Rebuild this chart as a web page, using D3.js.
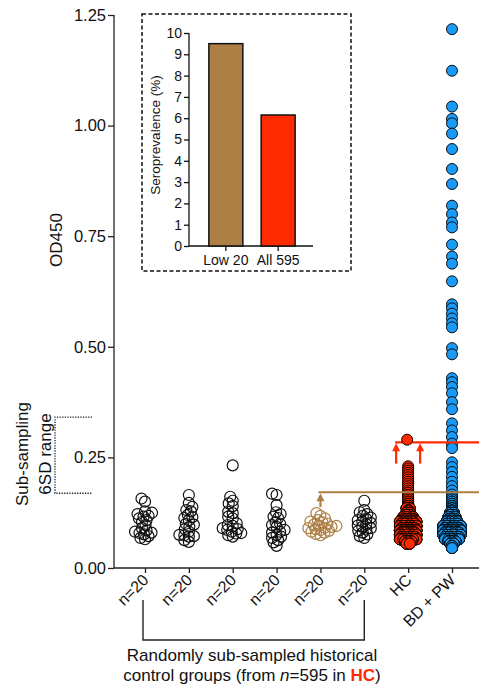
<!DOCTYPE html>
<html><head><meta charset="utf-8">
<script src="https://cdn.jsdelivr.net/npm/d3@7"></script>
<style>
html,body{margin:0;padding:0;background:#fff;}
svg{display:block;font-family:"Liberation Sans",Arial,Helvetica,sans-serif;}
</style></head>
<body>
<svg id="chart" width="479" height="688"></svg>
<script>
// ---------------- DATA ----------------
const categories = ["n=20","n=20","n=20","n=20","n=20","n=20","HC","BD + PW"];
const yTicks = [0, 0.25, 0.5, 0.75, 1.0, 1.25];

const sub1 = [0.157,0.150,0.128,0.125,0.122,0.118,0.116,0.112,0.108,0.104,0.097,0.090,0.085,0.082,0.080,0.079,0.076,0.072,0.068,0.065];
const sub2 = [0.165,0.147,0.138,0.131,0.128,0.120,0.115,0.113,0.108,0.100,0.098,0.093,0.088,0.082,0.075,0.074,0.072,0.071,0.063,0.059];
const sub3 = [0.232,0.161,0.152,0.146,0.140,0.127,0.124,0.116,0.112,0.101,0.097,0.095,0.090,0.088,0.086,0.082,0.079,0.078,0.074,0.071];
const sub4 = [0.168,0.165,0.142,0.126,0.122,0.116,0.113,0.104,0.100,0.097,0.093,0.086,0.082,0.080,0.075,0.071,0.068,0.063,0.058,0.050];
const sub5 = [0.124,0.118,0.112,0.108,0.105,0.103,0.100,0.098,0.096,0.095,0.093,0.091,0.090,0.088,0.086,0.084,0.082,0.080,0.077,0.074];
const sub6 = [0.152,0.131,0.126,0.122,0.118,0.114,0.111,0.108,0.105,0.102,0.099,0.096,0.093,0.090,0.087,0.084,0.080,0.076,0.072,0.068];

// HC (n=595): dense part as value bins with estimated counts, plus upper individual points
const hcBinValues = [0.055,0.060,0.065,0.070,0.075,0.080,0.085,0.090,0.095,0.100,0.105,0.110,0.115,0.120,0.125,0.130,0.135,0.140,0.145,0.150,0.155,0.160,0.165,0.170];
const hcBinCounts = [8,20,35,50,57,57,56,55,50,42,35,28,22,17,12,9,7,5,4,3,2,2,2,2];
const hcHigh = [0.175,0.180,0.185,0.190,0.195,0.200,0.205,0.210,0.215,0.220,0.225,0.230];
const hcOutlier = [0.290];

// BD + PW: dense part as bins, plus individual upper points
const bdBinValues = [0.045,0.050,0.055,0.060,0.065,0.070,0.075,0.080,0.085,0.090,0.095,0.100,0.105,0.110,0.115,0.120,0.125,0.130,0.135,0.140,0.145,0.150,0.155,0.160];
const bdBinCounts = [3,6,12,20,28,35,40,42,40,36,32,28,24,20,16,13,10,8,6,5,4,3,2,2];
const bdHigh = [0.166,0.175,0.185,0.195,0.206,0.217,0.228,0.239,0.271,0.281,0.296,0.311,0.327,0.359,0.375,0.395,0.409,0.420,0.429,0.483,0.497,0.544,0.553,0.564,0.575,0.587,0.596,0.648,0.688,0.704,0.731,0.770,0.781,0.800,0.819,0.868,0.902,0.947,0.982,1.005,1.015,1.043,1.124,1.218];

const thresholdLow = 0.171;   // brown line
const thresholdHigh = 0.284;  // red line
const rangeBracket = [0.169, 0.341];

// inset
const insetCats = ["Low 20","All 595"];
const insetVals = [9.5, 6.15];

// ---------------- STYLE ----------------
const BROWN = "#ad7f45", RED = "#ff2a00", BLUE = "#1a9af5";
const R = 5.5;

const svg = d3.select("#chart");
const y = d3.scaleLinear().domain([0,1.25]).range([568,15]);
const x = d3.scaleLinear().domain([0,7]).range([145,452]);
const AX0 = 114, AXEND = 479;

// ---------------- AXES ----------------
const gy = svg.append("g").attr("transform",`translate(${AX0},0)`);
gy.call(d3.axisLeft(y).tickValues(d3.range(0,1.2501,0.025)).tickSize(3).tickFormat(""))
  .call(g=>g.select(".domain").remove());
gy.call(d3.axisLeft(y).tickValues(yTicks).tickSize(6).tickPadding(2).tickFormat(d3.format(".2f")));
gy.selectAll("path,line").attr("stroke","#222").attr("stroke-width",1.3);
gy.selectAll("text").attr("font-size",16.5).attr("fill","#111").attr("font-family","Liberation Sans, Arial");
gy.select(".domain").attr("d",`M0,${y(1.25)}V${y(0)}`);

svg.append("line").attr("x1",AX0).attr("x2",AXEND).attr("y1",y(0)).attr("y2",y(0))
  .attr("stroke","#222").attr("stroke-width",1.3);
const gx = svg.append("g").attr("transform",`translate(0,${y(0)})`);
gx.call(d3.axisBottom(x).tickValues(d3.range(categories.length)).tickSize(5).tickFormat(i=>categories[i]))
  .call(g=>g.select(".domain").remove());
gx.selectAll("line").attr("stroke","#222").attr("stroke-width",1.3);
gx.selectAll("text").attr("font-size",16).attr("fill","#111").attr("font-family","Liberation Sans, Arial")
  .attr("text-anchor","end").attr("dy",null).attr("y",0)
  .attr("transform","translate(4,13) rotate(-45)");

svg.append("text").attr("transform",`translate(62,240) rotate(-90)`).attr("text-anchor","middle")
  .attr("font-size",17).attr("fill","#111").text("OD450");

// bracket on left
const br = svg.append("g").attr("fill","none").attr("stroke","#222").attr("stroke-width",1.3).attr("stroke-dasharray","1.3,1.3");
br.append("path").attr("d",`M92,${y(rangeBracket[1])}H55V${y(rangeBracket[0])}H92`);
svg.append("text").attr("transform",`translate(28,454) rotate(-90)`).attr("text-anchor","middle")
  .attr("font-size",17).attr("fill","#111").text("Sub-sampling");
svg.append("text").attr("transform",`translate(51,454) rotate(-90)`).attr("text-anchor","middle")
  .attr("font-size",17).attr("fill","#111").text("6SD range");

// ---------------- POINTS ----------------
function swarm(vals, cx, minD){
  const placed=[];
  const sorted=[...vals].sort((a,b)=>a-b);
  sorted.forEach(v=>{
    const py=y(v);
    let dx=0;
    for(let k=0;k<200;k++){
      const cand = (k%2===0?1:-1)*Math.ceil(k/2)*0.5;
      const ok = placed.every(p=>Math.hypot(p.x-(cx+cand),p.y-py)>=minD);
      if(ok){dx=cand;break;}
    }
    placed.push({x:cx+dx,y:py,v});
  });
  return placed;
}
// dense columns: points of a value bin are laid out on a few horizontal slots (hex-like stagger)
function binLayout(vals, counts, cx, maxSlots, sp){
  const pts=[];
  vals.forEach((v,i)=>{
    const n=counts[i];
    let k=Math.max(1,Math.min(maxSlots,Math.ceil(n/6)));
    if(i%2===1 && k>1){k=k-1;}
    for(let j=0;j<n;j++){
      const s=j%k;
      pts.push({x:cx+(s-(k-1)/2)*sp,y:y(v),v});
    }
  });
  return pts;
}

const subs=[sub1,sub2,sub3,sub4,sub5,sub6];
subs.forEach((s,i)=>{
  const pts=swarm(s,x(i),4.6);
  svg.append("g").selectAll("circle").data(pts).join("circle")
    .attr("cx",d=>d.x).attr("cy",d=>d.y).attr("r",R)
    .attr("fill","none").attr("stroke",i===4?BROWN:"#111").attr("stroke-width",1.2);
});

// HC
const hcPts = binLayout(hcBinValues,hcBinCounts,x(6),6,3.3)
  .concat(hcHigh.map(v=>({x:x(6),y:y(v),v})));
hcPts.sort((a,b)=>a.y-b.y);
svg.append("g").selectAll("circle").data(hcPts).join("circle")
  .attr("cx",d=>d.x).attr("cy",d=>d.y).attr("r",R)
  .attr("fill",RED).attr("stroke","#1a0500").attr("stroke-width",1);

// BD + PW
const bdPts = binLayout(bdBinValues,bdBinCounts,x(7),6,3.5)
  .concat(bdHigh.map(v=>({x:x(7),y:y(v),v})));
bdPts.sort((a,b)=>a.y-b.y);
svg.append("g").selectAll("circle").data(bdPts).join("circle")
  .attr("cx",d=>d.x).attr("cy",d=>d.y).attr("r",R)
  .attr("fill",BLUE).attr("stroke","#06121c").attr("stroke-width",1);

// ---------------- THRESHOLD LINES & ARROWS ----------------
function arrow(xp, yFrom, yTo, color){
  svg.append("line").attr("x1",xp).attr("x2",xp).attr("y1",yFrom).attr("y2",yTo+6)
    .attr("stroke",color).attr("stroke-width",2.2);
  svg.append("path").attr("d",`M${xp},${yTo}L${xp-4},${yTo+8}L${xp+4},${yTo+8}Z`).attr("fill",color);
}
svg.append("line").attr("x1",x(4)-2).attr("x2",AXEND).attr("y1",y(thresholdLow)).attr("y2",y(thresholdLow))
  .attr("stroke",BROWN).attr("stroke-width",2);
arrow(x(4), y(0.138), y(thresholdLow)+1, BROWN);

svg.append("line").attr("x1",x(6)-13).attr("x2",AXEND).attr("y1",y(thresholdHigh)).attr("y2",y(thresholdHigh))
  .attr("stroke",RED).attr("stroke-width",2.2);
arrow(x(6)-12, y(0.236), y(thresholdHigh)+1, RED);
arrow(x(6)+12, y(0.236), y(thresholdHigh)+1, RED);

svg.append("g").selectAll("circle").data(hcOutlier).join("circle")
  .attr("cx",x(6)-1).attr("cy",d=>y(d)).attr("r",R)
  .attr("fill",RED).attr("stroke","#1a0500").attr("stroke-width",1);

// ---------------- BOTTOM BRACKET & TEXT ----------------
svg.append("path").attr("d",`M${x(0)-2},600V640H${x(5)}V600`).attr("fill","none")
  .attr("stroke","#222").attr("stroke-width",1.4);
svg.append("text").attr("x",252).attr("y",661).attr("text-anchor","middle").attr("font-size",17).attr("fill","#111")
  .text("Randomly sub-sampled historical");
const t2 = svg.append("text").attr("x",252).attr("y",681).attr("text-anchor","middle").attr("font-size",17).attr("fill","#111");
t2.append("tspan").text("control groups (from ");
t2.append("tspan").attr("font-style","italic").text("n");
t2.append("tspan").text("=595 in ");
t2.append("tspan").attr("font-weight","bold").attr("fill",RED).text("HC");
t2.append("tspan").text(")");

// ---------------- INSET ----------------
const inset = svg.append("g");
inset.append("rect").attr("x",142).attr("y",14).attr("width",209).attr("height",257)
  .attr("fill","#fff").attr("stroke","#111").attr("stroke-width",1.5).attr("stroke-dasharray","4,2.5");
const iy = d3.scaleLinear().domain([0,10]).range([246,33]);
const ix = d3.scaleBand().domain(insetCats).range([189,315]).paddingInner(0.35).paddingOuter(0.38);
const giy = inset.append("g").attr("transform","translate(189,0)")
  .call(d3.axisLeft(iy).tickValues(d3.range(0,11)).tickSize(5).tickPadding(2).tickFormat(d3.format("d")));
giy.select(".domain").attr("d",`M0,${iy(10)}V${iy(0)}`);
const gix = inset.append("g").attr("transform",`translate(0,${iy(0)})`)
  .call(d3.axisBottom(ix).tickSize(5).tickPadding(4));
gix.select(".domain").attr("d",`M189,0H313`);
[giy,gix].forEach(g=>{
  g.selectAll("path,line").attr("stroke","#111").attr("stroke-width",1.3);
  g.selectAll("text").attr("font-size",14).attr("fill","#111").attr("font-family","Liberation Sans, Arial");
});
inset.selectAll("rect.bar").data(insetVals).join("rect").attr("class","bar")
  .attr("x",(d,i)=>ix(insetCats[i])).attr("width",ix.bandwidth())
  .attr("y",d=>iy(d)).attr("height",d=>iy(0)-iy(d))
  .attr("fill",(d,i)=>i===0?BROWN:RED).attr("stroke","#111").attr("stroke-width",1.5);
inset.append("text").attr("transform",`translate(160,135) rotate(-90)`).attr("text-anchor","middle")
  .attr("font-size",13.5).attr("fill","#111").text("Seroprevalence (%)");
</script>
</body></html>
